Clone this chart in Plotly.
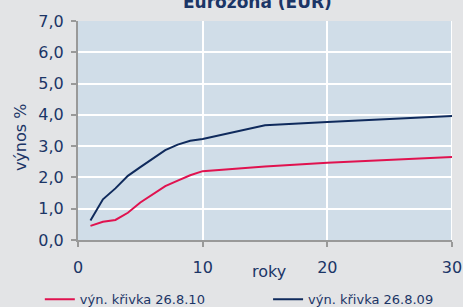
import plotly.graph_objects as go

maturity = [1, 2, 3, 4, 5, 6, 7, 8, 9, 10, 15, 20, 30]
curve_2010 = [0.45, 0.58, 0.64, 0.87, 1.2, 1.46, 1.72, 1.9, 2.07, 2.2, 2.35, 2.47, 2.65]
curve_2009 = [0.62, 1.3, 1.65, 2.05, 2.33, 2.6, 2.87, 3.05, 3.17, 3.23, 3.67, 3.77, 3.96]
name_2010 = "výn. křivka 26.8.10"
name_2009 = "výn. křivka 26.8.09"
y_ticks = [0, 1, 2, 3, 4, 5, 6, 7]
y_ticktext = ["0,0", "1,0", "2,0", "3,0", "4,0", "5,0", "6,0", "7,0"]
x_ticks = [0, 10, 20, 30]

NAVY = "#1b3566"
FONT = "DejaVu Sans"

fig = go.Figure()
fig.add_trace(go.Scatter(x=maturity, y=curve_2010, mode="lines", name=name_2010,
                         line=dict(color="#e0124f", width=2), legend="legend"))
fig.add_trace(go.Scatter(x=maturity, y=curve_2009, mode="lines", name=name_2009,
                         line=dict(color="#0f2a5c", width=2), legend="legend2"))

leg_common = dict(orientation="h", yref="container", y=0.025, yanchor="middle",
                  xref="container", xanchor="left",
                  font=dict(size=13, color=NAVY), bgcolor="rgba(0,0,0,0)",
                  itemwidth=30)

fig.update_layout(
    width=463, height=307,
    margin=dict(l=78, r=11, t=21, b=67, autoexpand=False),
    paper_bgcolor="#e3e4e6",
    plot_bgcolor="#d0dde8",
    font=dict(family=FONT, color=NAVY, size=15),
    showlegend=True,
    legend=dict(x=0.086, **leg_common),
    legend2=dict(x=0.579, **leg_common),
    xaxis=dict(range=[0, 30], tickvals=x_ticks, showgrid=True, gridcolor="white",
               gridwidth=2, zeroline=False, showline=True, linecolor="#999999",
               linewidth=2, ticks="outside", tickcolor="#999999", ticklen=5,
               tickwidth=2, ticklabelstandoff=7, automargin=False,
               tickfont=dict(size=16, color=NAVY)),
    yaxis=dict(range=[0, 7], tickvals=y_ticks, ticktext=y_ticktext, showgrid=True,
               gridcolor="white", gridwidth=2, zeroline=False, showline=True,
               linecolor="#999999", linewidth=2, ticks="outside", tickcolor="#999999",
               ticklen=5, tickwidth=2, ticklabelstandoff=4, automargin=False,
               tickfont=dict(size=16, color=NAVY)),
)
fig.add_annotation(text="<b>Eurozóna (EUR)</b>", x=0.48, y=1.087, xref="paper", yref="paper",
                   showarrow=False, xanchor="center", yanchor="middle",
                   font=dict(size=17, color=NAVY))
fig.add_annotation(text="výnos %", x=-0.155, y=0.47, xref="paper", yref="paper",
                   showarrow=False, textangle=-90, xanchor="center", yanchor="middle",
                   font=dict(size=16, color=NAVY))
fig.add_annotation(text="roky", x=0.51, y=-0.145, xref="paper", yref="paper",
                   showarrow=False, xanchor="center", yanchor="middle",
                   font=dict(size=16, color=NAVY))
fig.add_shape(type="line", x0=30, x1=30, y0=0, y1=7, xref="x", yref="y",
              line=dict(color="white", width=2), layer="below")

fig.write_html("out.html", config={"displayModeBar": False},
               post_script="document.body.style.margin='0';")
